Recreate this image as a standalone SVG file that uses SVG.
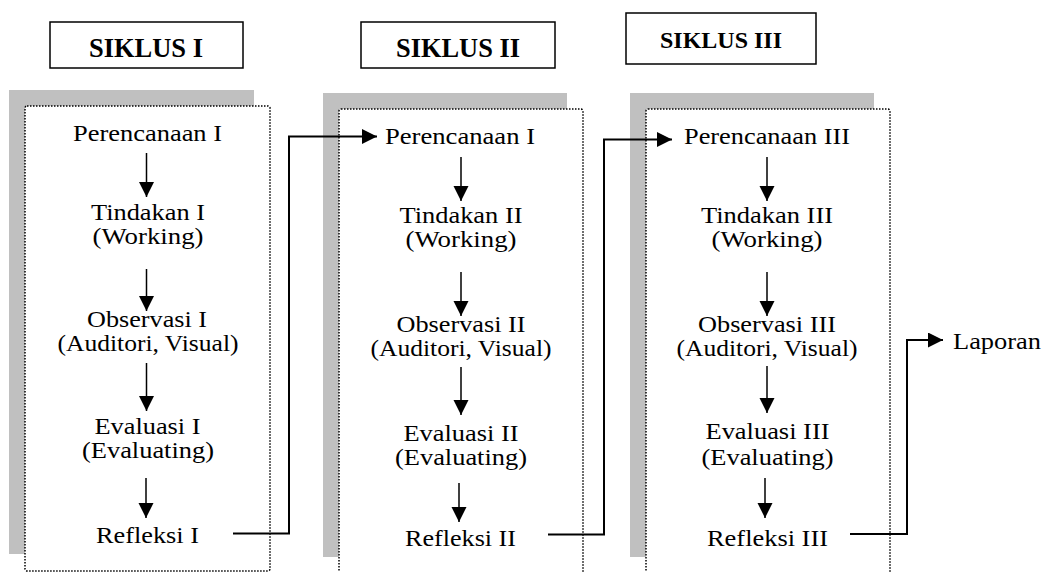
<svg xmlns="http://www.w3.org/2000/svg" width="1043" height="572" viewBox="0 0 1043 572">
<style>
text{font-family:"Liberation Serif",serif;fill:#000;text-anchor:middle}
.t{font-size:24px}
.h{font-weight:bold}
.shadow{fill:#c0c0c0}
.dot{fill:#fff;stroke:#000;stroke-width:1.5;stroke-dasharray:1.5 1.5}
.title{fill:#fff;stroke:#000;stroke-width:1.5}
.ar{stroke:#000;stroke-width:1.5;fill:none;marker-end:url(#ah)}
.cn{stroke:#000;stroke-width:2;fill:none;marker-end:url(#ah)}
</style>
<defs>
<marker id="ah" markerUnits="userSpaceOnUse" markerWidth="16" markerHeight="16" refX="15" refY="7.5" orient="auto">
<path d="M0,0 L15,7.5 L0,15 Z" fill="#000"/>
</marker>
</defs>
<rect width="1043" height="572" fill="#fff"/>

<g id="title1"><rect class="title" x="50" y="22" width="193" height="46"/><text class="h" x="146" y="57" font-size="27" textLength="114" lengthAdjust="spacingAndGlyphs">SIKLUS I</text></g>
<g id="title2"><rect class="title" x="361" y="22" width="194" height="46"/><text class="h" x="458" y="57" font-size="28" textLength="124" lengthAdjust="spacingAndGlyphs">SIKLUS II</text></g>
<g id="title3"><rect class="title" x="626" y="13" width="190" height="51"/><text class="h" x="721" y="48" font-size="24" textLength="122" lengthAdjust="spacingAndGlyphs">SIKLUS III</text></g>

<g id="panel1">
<rect class="shadow" x="9" y="90" width="245" height="464"/>
<rect class="dot" x="25" y="106" width="245" height="465" rx="2"/>
</g>
<g id="panel2">
<rect class="shadow" x="323" y="93" width="244" height="464"/>
<rect class="dot" x="339" y="109" width="244" height="480" rx="2"/>
</g>
<g id="panel3">
<rect class="shadow" x="630" y="93" width="244" height="464"/>
<rect class="dot" x="646" y="109" width="244" height="480" rx="2"/>
</g>

<g id="c1-perencanaan"><text class="t" x="147.5" y="141" textLength="149" lengthAdjust="spacingAndGlyphs">Perencanaan I</text></g>
<g id="c1-tindakan"><text class="t" x="148" y="220" textLength="114" lengthAdjust="spacingAndGlyphs">Tindakan I</text><text class="t" x="148" y="244" textLength="111" lengthAdjust="spacingAndGlyphs">(Working)</text></g>
<g id="c1-observasi"><text class="t" x="147" y="326.5" textLength="120" lengthAdjust="spacingAndGlyphs">Observasi I</text><text class="t" x="148" y="350.5" textLength="181" lengthAdjust="spacingAndGlyphs">(Auditori, Visual)</text></g>
<g id="c1-evaluasi"><text class="t" x="147.5" y="434" textLength="106" lengthAdjust="spacingAndGlyphs">Evaluasi I</text><text class="t" x="148" y="458" textLength="132" lengthAdjust="spacingAndGlyphs">(Evaluating)</text></g>
<g id="c1-refleksi"><text class="t" x="147.5" y="543" textLength="103" lengthAdjust="spacingAndGlyphs">Refleksi I</text></g>

<g id="c2-perencanaan"><text class="t" x="460" y="144" textLength="150" lengthAdjust="spacingAndGlyphs">Perencanaan I</text></g>
<g id="c2-tindakan"><text class="t" x="461" y="223" textLength="123" lengthAdjust="spacingAndGlyphs">Tindakan II</text><text class="t" x="461" y="247" textLength="111" lengthAdjust="spacingAndGlyphs">(Working)</text></g>
<g id="c2-observasi"><text class="t" x="461" y="332" textLength="129" lengthAdjust="spacingAndGlyphs">Observasi II</text><text class="t" x="461" y="356" textLength="181" lengthAdjust="spacingAndGlyphs">(Auditori, Visual)</text></g>
<g id="c2-evaluasi"><text class="t" x="461" y="441" textLength="115" lengthAdjust="spacingAndGlyphs">Evaluasi II</text><text class="t" x="461" y="465" textLength="132" lengthAdjust="spacingAndGlyphs">(Evaluating)</text></g>
<g id="c2-refleksi"><text class="t" x="460.5" y="545.5" textLength="111" lengthAdjust="spacingAndGlyphs">Refleksi II</text></g>

<g id="c3-perencanaan"><text class="t" x="767" y="144" textLength="166" lengthAdjust="spacingAndGlyphs">Perencanaan III</text></g>
<g id="c3-tindakan"><text class="t" x="767" y="223" textLength="132" lengthAdjust="spacingAndGlyphs">Tindakan III</text><text class="t" x="767" y="247" textLength="111" lengthAdjust="spacingAndGlyphs">(Working)</text></g>
<g id="c3-observasi"><text class="t" x="767" y="332" textLength="138" lengthAdjust="spacingAndGlyphs">Observasi III</text><text class="t" x="767" y="356" textLength="181" lengthAdjust="spacingAndGlyphs">(Auditori, Visual)</text></g>
<g id="c3-evaluasi"><text class="t" x="767.5" y="439" textLength="124" lengthAdjust="spacingAndGlyphs">Evaluasi III</text><text class="t" x="767.5" y="465" textLength="132" lengthAdjust="spacingAndGlyphs">(Evaluating)</text></g>
<g id="c3-refleksi"><text class="t" x="767.5" y="545.5" textLength="121" lengthAdjust="spacingAndGlyphs">Refleksi III</text></g>

<g id="laporan"><text class="t" x="997" y="349" textLength="88" lengthAdjust="spacingAndGlyphs">Laporan</text></g>

<g id="connectors">
<line class="ar" x1="146.5" y1="153" x2="146.5" y2="197"/>
<line class="ar" x1="146.5" y1="269" x2="146.5" y2="311"/>
<line class="ar" x1="146.5" y1="363" x2="146.5" y2="411"/>
<line class="ar" x1="146" y1="478" x2="146" y2="518"/>

<line class="ar" x1="461" y1="157" x2="461" y2="201"/>
<line class="ar" x1="461" y1="272" x2="461" y2="316"/>
<line class="ar" x1="461" y1="367" x2="461" y2="415"/>
<line class="ar" x1="459" y1="483" x2="459" y2="522"/>

<line class="ar" x1="767" y1="157" x2="767" y2="201"/>
<line class="ar" x1="767" y1="272" x2="767" y2="316"/>
<line class="ar" x1="767" y1="366" x2="767" y2="413"/>
<line class="ar" x1="765" y1="478" x2="765" y2="518"/>

<path class="cn" d="M233,533.5 H289 V136.5 H377"/>
<path class="cn" d="M548,534.5 H604 V139.5 H672"/>
<path class="cn" d="M850,534 H907 V340 H943"/>
</g>
</svg>
